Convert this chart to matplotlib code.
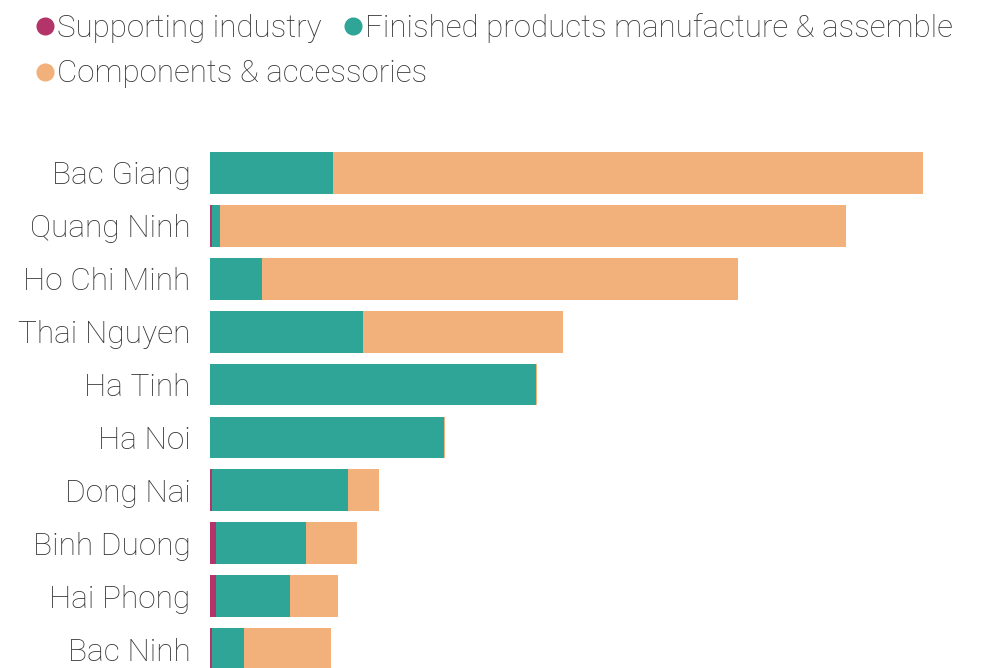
import matplotlib.pyplot as plt
import numpy as np
from matplotlib.lines import Line2D

plt.rcParams["font.family"] = ["Roboto", "DejaVu Sans"]
plt.rcParams["font.weight"] = "light"

# provinces, top to bottom
provinces = ["Bac Giang", "Quang Ninh", "Ho Chi Minh", "Thai Nguyen", "Ha Tinh",
             "Ha Noi", "Dong Nai", "Binh Duong", "Hai Phong", "Bac Ninh"]
supporting = [0, 2, 0, 0, 0, 0, 2, 6, 6, 2]
finished = [123, 8, 52, 153, 326, 234, 136, 90, 74, 32]
components = [590, 626, 476, 200, 1, 1, 31, 51, 48, 87]

series_names = ["Supporting industry", "Finished products manufacture & assemble",
                "Components & accessories"]
c_sup = "#b23468"
c_fin = "#2ea597"
c_com = "#f2b07a"
text_col = "#333333"

fig = plt.figure(figsize=(9.89, 6.68), dpi=100)
ax = fig.add_axes([210 / 989, -2 / 668, 779 / 989, (670 - 152) / 668])

y = np.arange(len(provinces))
sup = np.array(supporting)
fin = np.array(finished)
com = np.array(components)
h = 0.79
ax.barh(y, sup, height=h, color=c_sup, linewidth=0)
ax.barh(y, fin, left=sup, height=h, color=c_fin, linewidth=0)
ax.barh(y, com, left=sup + fin, height=h, color=c_com, linewidth=0)

ax.set_xlim(0, 779)
ax.set_ylim(len(provinces) - 1 + h / 2, -h / 2)
ax.set_yticks(y)
ax.set_yticklabels(provinces, fontsize=22.8, color=text_col)
ax.tick_params(axis="y", length=0, pad=14)
ax.set_xticks([])
for s in ax.spines.values():
    s.set_visible(False)


def dot(c):
    return Line2D([], [], marker="o", ls="", ms=12, color=c)


# two legends: first row holds two series side by side, second row the third
leg_kw = dict(loc="center left", frameon=False, fontsize=22.5, handlelength=0.55,
              handletextpad=0.12, borderaxespad=0, borderpad=0)
leg1 = fig.legend([dot(c_sup), dot(c_fin)], series_names[:2], ncol=2,
                  bbox_to_anchor=(36 / 989, 1 - 28 / 668), columnspacing=0.73, **leg_kw)
leg2 = fig.legend([dot(c_com)], series_names[2:],
                  bbox_to_anchor=(36 / 989, 1 - 74 / 668), **leg_kw)
for leg in (leg1, leg2):
    for t in leg.get_texts():
        t.set_color(text_col)

fig.savefig("out.png", dpi=100)
